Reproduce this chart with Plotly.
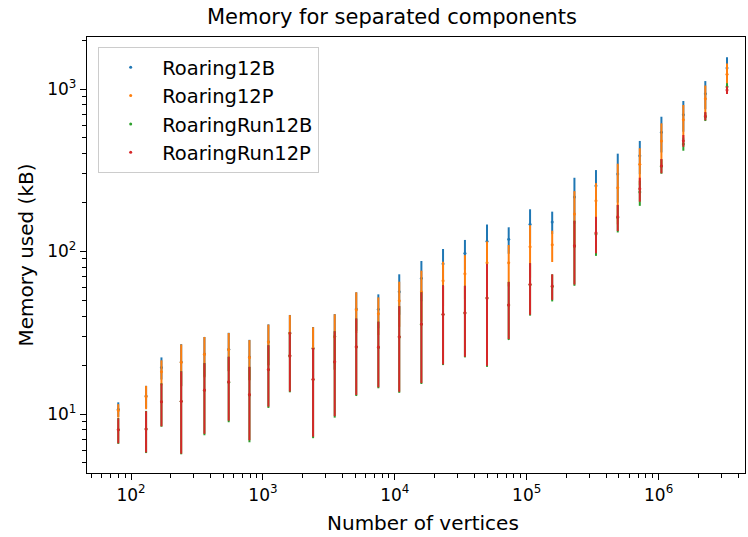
import plotly.graph_objects as go

vertices = [80, 130, 170, 240, 360, 550, 790, 1100, 1600, 2400, 3500, 5100, 7500,
            10800, 15900, 23200, 34000, 50000, 73000, 106000, 156000, 230000,
            335000, 490000, 720000, 1050000, 1540000, 2260000, 3300000]

roaring12b_mean = [10.7, 12.9, 19.3, 20.9, 23.4, 25.0, 22.4, 27.8, 31.5, 25.4, 30.0, 44.3, 44.1,
                   56.6, 68.4, 84.1, 97.5, 115.6, 118.9, 146.9, 151.9, 216.3,
                   254, 300, 389, 541, 695, 935, 1346]
roaring12b_err = [1.1, 2.0, 3.0, 6.0, 6.4, 6.6, 6.2, 7.8, 9.2, 8.9, 11.2, 11.8, 10.4,
                  15.8, 19.0, 19.5, 20.3, 31.0, 22.0, 35.0, 24.0, 68.0,
                  63, 100, 90, 134, 149, 184, 220]

roaring12p_mean = [10.5, 12.8, 18.2, 20.8, 23.3, 24.9, 22.3, 27.7, 31.4, 25.3, 29.9, 43.8, 41.4,
                   49.8, 56.6, 66.1, 73.0, 85.3, 85.3, 107, 110.2, 170.2,
                   205.4, 247, 344, 478.6, 647.6, 871, 1231]
roaring12p_err = [1.0, 2.1, 3.2, 6.0, 6.5, 6.6, 6.2, 7.8, 9.2, 8.9, 11.2, 12.3, 10.8,
                  15.4, 19.6, 20.4, 22.0, 30.0, 24.3, 38, 24, 65,
                  58, 100, 88, 136, 150, 180, 205]

run12b_mean = [8.0, 8.1, 11.9, 12.0, 14.0, 15.7, 13.1, 18.7, 22.8, 16.3, 20.9, 25.8, 25.7,
               29.8, 35.7, 41.0, 41.9, 51.7, 46.8, 62.5, 60.8, 108,
               128, 162, 232, 335, 459, 675, 1033]
run12b_err = [1.45, 2.35, 3.55, 6.35, 6.6, 6.8, 6.4, 7.8, 9.2, 9.2, 11.4, 12.9, 11.3,
              16.3, 20.4, 21.0, 19.6, 32.2, 18.3, 22.2, 11.5, 46.5,
              34, 31, 41, 34, 42, 40, 50]

run12p_mean = [8.0, 8.1, 11.9, 12.0, 14.05, 15.8, 13.2, 18.8, 22.85, 16.35, 21.0, 25.9, 25.8,
               29.9, 35.8, 41.1, 42.0, 51.8, 46.9, 62.8, 61.4, 108.6,
               130.5, 163.7, 243.5, 337, 481, 682, 986]
run12p_err = [1.4, 2.3, 3.5, 6.3, 6.5, 6.7, 6.3, 7.7, 9.1, 9.1, 11.3, 12.8, 11.2,
              16.2, 20.3, 20.9, 19.5, 32, 18, 22, 11, 46,
              33, 30, 41, 34, 40, 40, 55]

series = [
    ("Roaring12B", roaring12b_mean, roaring12b_err, "#1f77b4"),
    ("Roaring12P", roaring12p_mean, roaring12p_err, "#ff7f0e"),
    ("RoaringRun12B", run12b_mean, run12b_err, "#2ca02c"),
    ("RoaringRun12P", run12p_mean, run12p_err, "#d62728"),
]

x_major = [100, 1000, 10000, 100000, 1000000]
x_major_text = ["10<sup>2</sup>", "10<sup>3</sup>", "10<sup>4</sup>", "10<sup>5</sup>", "10<sup>6</sup>"]
y_major = [10, 100, 1000]
y_major_text = ["10<sup>1</sup>", "10<sup>2</sup>", "10<sup>3</sup>"]

x_minor = [m * 10 ** e for e in range(1, 7) for m in range(2, 10)]
y_minor = [m * 10 ** e for e in range(0, 4) for m in range(2, 10)]

fig = go.Figure()
for name, mean, err, color in series:
    fig.add_trace(go.Scatter(
        x=vertices, y=mean, mode="markers", name=name,
        marker=dict(color=color, size=3),
        error_y=dict(type="data", array=err, symmetric=True, color=color,
                     thickness=2, width=0),
    ))

font_family = "DejaVu Sans"
fig.update_layout(
    width=748, height=537,
    margin=dict(l=87, r=3, t=37, b=64),
    paper_bgcolor="white", plot_bgcolor="white",
    font=dict(family=font_family, color="black", size=16),
    title=dict(text="Memory for separated components", x=392 / 748, xanchor="center",
               y=1 - 17 / 537, yanchor="middle", yref="container",
               font=dict(size=21, family=font_family, color="black")),
    showlegend=True,
    legend=dict(x=0.017, y=0.977, xanchor="left", yanchor="top",
                bgcolor="rgba(255,255,255,0.8)", bordercolor="#cccccc", borderwidth=1,
                font=dict(size=19.5, family=font_family, color="black"),
                itemwidth=53),
    annotations=[dict(text="Number of vertices", xref="paper", yref="paper",
                      x=(423 - 87) / 658, y=(473 - 523) / 436,
                      xanchor="center", yanchor="middle", showarrow=False,
                      font=dict(size=20, family=font_family, color="black"))],
)
fig.update_xaxes(
    type="log", range=[1.666, 6.655],
    tickmode="array", tickvals=x_major, ticktext=x_major_text,
    ticks="outside", ticklen=6, tickwidth=1.3, tickcolor="black",
    showline=True, linecolor="black", linewidth=1.3, mirror=True,
    showgrid=False, zeroline=False,
    tickfont=dict(size=17, family=font_family, color="black"),
    minor=dict(tickmode="array", tickvals=x_minor, ticks="outside", ticklen=3.5,
               tickwidth=1, tickcolor="black", showgrid=False),
)
fig.update_yaxes(
    type="log", range=[0.637, 3.32],
    tickmode="array", tickvals=y_major, ticktext=y_major_text,
    ticks="outside", ticklen=6, tickwidth=1.3, tickcolor="black",
    showline=True, linecolor="black", linewidth=1.3, mirror=True,
    showgrid=False, zeroline=False,
    tickfont=dict(size=17, family=font_family, color="black"),
    title=dict(text="Memory used (kB)", font=dict(size=20, family=font_family, color="black"), standoff=8),
    minor=dict(tickmode="array", tickvals=y_minor, ticks="outside", ticklen=3.5,
               tickwidth=1, tickcolor="black", showgrid=False),
)

fig.write_html("out.html")
